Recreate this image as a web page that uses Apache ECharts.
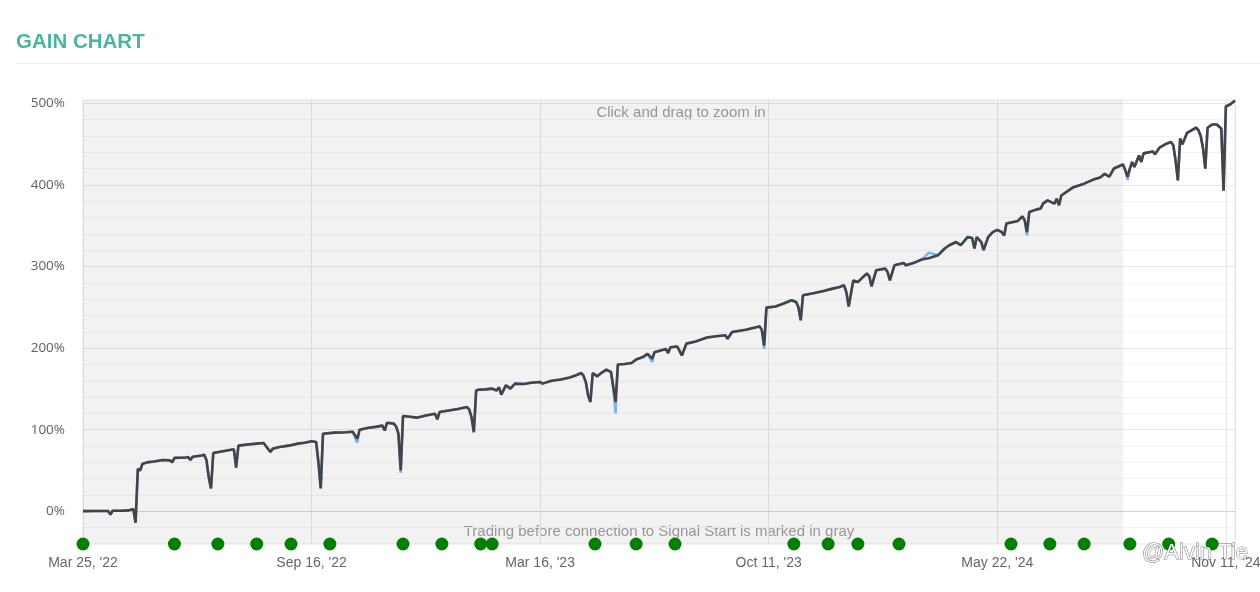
<!DOCTYPE html>
<html><head><meta charset="utf-8">
<script src="https://cdn.jsdelivr.net/npm/echarts@6/dist/echarts.min.js"></script>
<style>html,body{margin:0;padding:0;background:#fff}#c{width:1260px;height:592px}</style>
</head><body><div id="c"></div>
<script>
// x tick labels, one every 100 trading-day index units
const tickLabels = ["Mar 25, '22","Sep 16, '22","Mar 16, '23","Oct 11, '23","May 22, '24","Nov 11, '24"];

// balance gain (%) : [trading-day index, gain]
const gainPoints = [
[0,0.3],[5,0.5],[11,0.5],[12,-4],[13,0.8],[17,0.8],[20,1.2],[22,3],[23,-14],[24,52],[25,50],[26,58],[28,60],[31,61],[35,63],[38,62.5],[39,60],[40,65.5],[45,66],[46,66.5],[47,63],[48,67],[52,68.5],[53,69.5],[54,63],[55,42],[56,28],[57,71.5],[60,73],[66,76],[67,53.5],[68,80.5],[72,82],[76,83],[79,83.7],[82,72.7],[83,76.8],[86,78.8],[90,80.5],[94,83],[97,84],[100,86],[102,85],[103,60],[104,28],[105,95],[110,96.5],[115,97],[118,97.5],[120,89],[121,100],[125,102.5],[128,103.5],[131,105],[132,99],[133,108.5],[136,107.5],[137,104],[138,95],[139,50],[140,116.8],[143,116],[146,114.8],[150,117.5],[154,119.7],[155,112.7],[156,121.7],[160,123.5],[164,125.5],[168,127.8],[169,124.6],[170,115],[171,97],[172,148],[173,149],[176,149.5],[179,150.4],[181,148],[182,152],[183,143],[185,154.4],[187,150.4],[189,156.5],[193,156],[196,157.5],[200,158.5],[201,156.5],[205,160],[209,161.5],[213,164],[216,167],[218,169.5],[219,166],[220,158],[221,142],[222,134],[223,169.5],[225,165.4],[227,170],[229,173.6],[231,170.7],[232,152],[233,134],[234,180],[237,180.5],[240,181.7],[242,186],[245,189],[247,193],[249,187],[250,195],[255,199],[256,194],[257,201],[260,202],[262,191],[264,205.5],[268,208],[273,213],[277,214.5],[281,215.7],[282,211.6],[284,219.7],[290,222.5],[295,225.8],[296,226.7],[297,222],[298,203],[299,249.6],[303,251],[306,254],[310,258.6],[312,256.5],[313,250],[314,234],[315,264.7],[320,267.5],[324,270],[328,272.9],[331,274.9],[333,277],[334,268],[335,251],[337,283],[339,281],[341,286.4],[343,291.3],[344,288],[345,275.7],[347,295.3],[351,297.4],[352,293.3],[353,283],[355,301.5],[359,304.3],[360,301.5],[364,305],[367,308.5],[370,310],[374,313.7],[377,322],[379,326],[382,330],[384,326],[387,336],[389,335],[390,322],[391,336],[393,330],[394,320],[396,336],[398,342],[400,345],[402,342],[403,338],[404,352.6],[409,355.8],[411,361.5],[412,356.6],[413,342],[414,366.8],[417,369.7],[419,371],[420,377],[422,381],[425,377],[426,383],[427,375],[428,387],[433,396.7],[438,401.5],[442,406.5],[445,409],[447,413.6],[449,410],[451,420],[455,425],[456,418],[457,410],[458,420],[459,428],[460,422],[462,436],[463,428],[464,438.6],[468,441],[469,437.5],[471,445.7],[474,450.5],[476,452.5],[477,448.5],[478,430],[479,405.6],[480,456.7],[481,449.8],[483,463.6],[487,470],[488,467],[489,460],[490,445],[491,420],[492,470],[494,474],[496,474],[498,469],[499,393],[500,496],[502,498.8],[504,503.5]
];

// equity gain differs from balance gain only on these days
const equityDiff = [[120,84],[139,47],[233,120],[249,183],[298,199],[370,317],[413,338],[457,406]];

// deposit / withdrawal events (green markers)
const eventDays = [0,40,59,76,91,108,140,157,174,179,224,242,259,311,326,339,357,406,423,438,458,475,494];

// trading before connection to Signal Start (gray band) ends at this day index
const grayEnd = 455;

const diffMap = new Map(equityDiff);
const equityPoints = gainPoints.map(p => [p[0], diffMap.has(p[0]) ? diffMap.get(p[0]) : p[1]]);

const chart = echarts.init(document.getElementById('c'), null, {renderer: 'canvas'});
const minor = '#f3f3f3', major = '#e6e6e6';
chart.setOption({
  animation: false,
  grid: {left: 83, right: 25, top: 100, bottom: 48, containLabel: false, outerBoundsMode: 'none',
         show: true, borderColor: '#e6e6e6', borderWidth: 1, backgroundColor: 'transparent'},
  xAxis: {
    type: 'value', min: 0, max: 504, interval: 100,
    axisLine: {show: true, lineStyle: {color: '#ccd6eb', width: 1}},
    axisTick: {show: false},
    splitLine: {show: true, lineStyle: {color: '#e6e6e6', width: 1}},
    axisLabel: {
      margin: 12, color: '#666', fontSize: 14, fontFamily: 'Liberation Sans',
      formatter: v => (v % 100 === 0 && v / 100 < tickLabels.length) ? tickLabels[v / 100] : ''
    }
  },
  yAxis: {
    type: 'value', min: -40, max: 504, interval: 20,
    axisLine: {show: false}, axisTick: {show: false},
    splitLine: {show: true, lineStyle: {color: [minor, minor, major, minor, minor], width: 1}},
    axisLabel: {
      margin: 18, color: '#606060', fontSize: 13.5, fontFamily: 'Open Sans',
      formatter: v => (v >= 0 && v % 100 === 0) ? v + '%' : ''
    }
  },
  series: [
    {
      type: 'line', data: equityPoints, showSymbol: false, symbol: 'none',
      lineStyle: {color: '#7cb5ec', width: 2.6}, z: 2,
      markArea: {silent: true, itemStyle: {color: 'rgba(0,0,0,0.052)'}, data: [[{xAxis: 0}, {xAxis: grayEnd}]]}
    },
    {
      type: 'line', data: gainPoints, showSymbol: false, symbol: 'none',
      lineStyle: {color: '#434348', width: 2.6}, z: 3
    },
    {
      type: 'scatter', data: eventDays.map(d => [d, -40]), symbolSize: 13, clip: false,
      itemStyle: {color: '#008000', opacity: 1}, z: 4
    }
  ],
  graphic: [
    {type: 'text', x: 16, y: 42, style: {text: 'GAIN CHART', font: 'bold 20.5px "Liberation Sans"', fill: '#4bb5a2', verticalAlign: 'middle', textVerticalAlign: 'middle'}},
    {type: 'line', shape: {x1: 16, y1: 63.5, x2: 1260, y2: 63.5}, style: {stroke: '#ebebeb', lineWidth: 1}},
    {type: 'text', x: 681, y: 113, style: {text: 'Click and drag to zoom in', font: '15px "Liberation Sans"', fill: '#9d9d9d', align: 'center', textAlign: 'center', verticalAlign: 'middle', textVerticalAlign: 'middle'}},
    {type: 'text', x: 659, y: 532, style: {text: 'Trading before connection to Signal Start is marked in gray', font: '15px "Liberation Sans"', fill: '#a0a0a0', align: 'center', textAlign: 'center', verticalAlign: 'middle', textVerticalAlign: 'middle'}},
    {type: 'text', x: 1142, y: 553, z: 200, style: {text: '@Alvin Tie', font: '22px "Liberation Sans"', fill: 'rgba(255,255,255,0.92)', stroke: 'rgba(70,70,70,0.7)', lineWidth: 1, verticalAlign: 'middle', textVerticalAlign: 'middle'}}
  ]
});
</script>
</body></html>
